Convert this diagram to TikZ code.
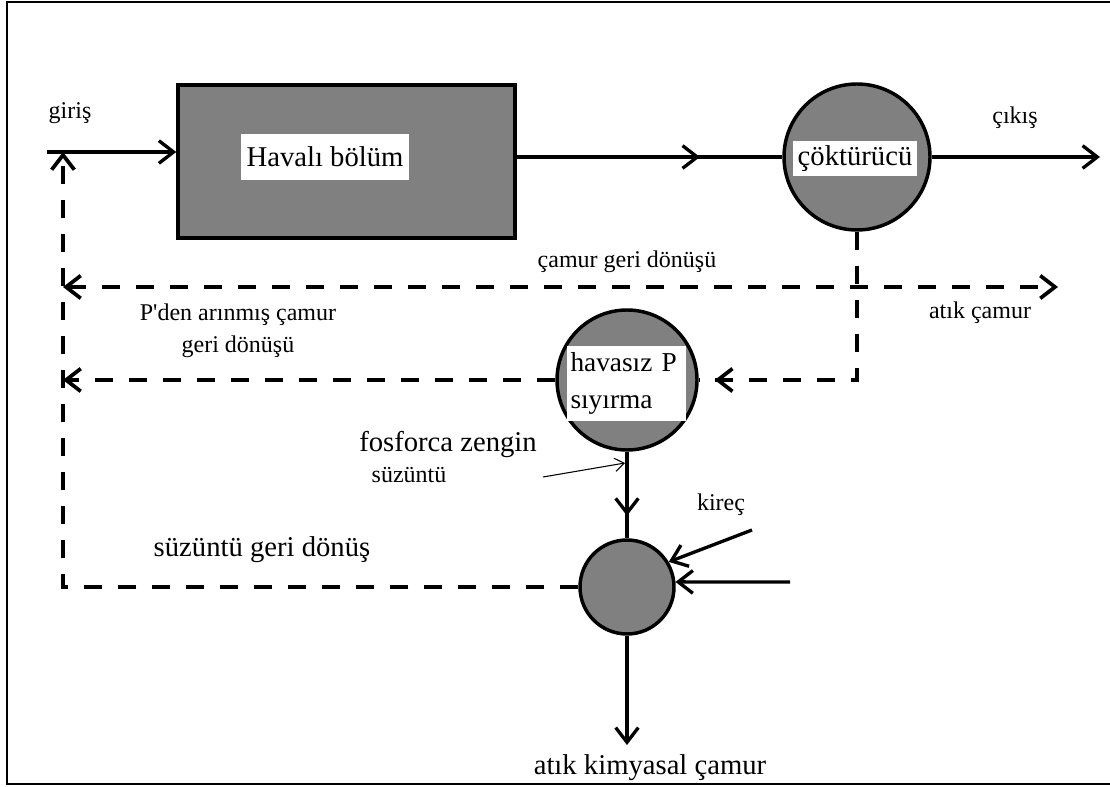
\documentclass[tikz,border=0pt]{standalone}
\usepackage{fontspec}
\setmainfont{Liberation Serif}
\usetikzlibrary{arrows.meta,decorations.markings}
\definecolor{tank}{RGB}{128,128,128}
\begin{document}
\begin{tikzpicture}[x=0.75pt,y=-0.75pt,
  >={Straight Barb[length=11pt,width=17pt]},
  frame/.style={line width=2.2pt},
  flow/.style={line width=2.5pt},
  dflow/.style={line width=2.8pt,dash pattern=on 13.5pt off 12pt},
  thin flow/.style={line width=0.8pt,-{Straight Barb[length=7pt,width=10pt]}},
  tankbox/.style={draw,line width=2.6pt,fill=tank,inner sep=0},
  tankcirc/.style={draw,line width=2.6pt,fill=tank,circle,inner sep=0},
  wlabel/.style={fill=white,inner sep=2pt,font=\fontsize{21.5}{27.5}\selectfont},
  lbl/.style={inner sep=0,font=\fontsize{18}{21}\selectfont},
  lblL/.style={inner sep=0,font=\fontsize{21.5}{25}\selectfont},
  midarrow/.style={postaction={decorate},decoration={markings,mark=at position #1 with {\arrow{>}}}}
]
\useasboundingbox (0,0) rectangle (1110,787);
% frame
\draw[frame] (1112,2) -- (7,2) -- (7,784) -- (1112,784);

% units
\node[tankbox,minimum width=252.75pt,minimum height=114.75pt] (hb) at (346.5,161.5) {};
\node[wlabel,minimum width=126pt,minimum height=34.5pt] (hbl) at (325,157) {Havalı bölüm};
\node[tankcirc,minimum size=109.5pt] (cok) at (857,157) {};
\node[wlabel,minimum width=93pt,minimum height=26pt] (cokl) at (855,158.5) {çöktürücü};
\node[tankcirc,minimum size=105pt] (hav) at (627,380) {};
\node[wlabel,inner xsep=2.5pt,text width=84pt,minimum height=56pt,align=left,font=\fontsize{20.5}{27.5}\selectfont] (havl) at (626.5,383.5) {havasız P\\sıyırma};
\node[tankcirc,minimum size=70.5pt] (sm) at (627,587) {};

% free ends
\coordinate (in) at (47,152);
\coordinate (fb) at (63,152);
\coordinate (out) at (1100,157);
\coordinate (rl) at (63,287);
\coordinate (rr) at (1058,287);
\coordinate (pl) at (63,380);
\coordinate (lime) at (752,530);
\coordinate (lime2) at (790,582);
\coordinate (sludge) at (627,745);
\coordinate (fzs) at (543,477);
\coordinate (fze) at (625,463);

% solid flows
\draw[flow,->] (in) -- (in -| hb.west);
\draw[flow,midarrow=0.69] (hb.east |- cok.west) -- (cok.west);
\draw[flow,->] (cok.east) -- (out);
\draw[flow,midarrow=0.74] (hav.south) -- (sm.north);
\draw[flow,->] (lime) -- (sm.31);
\draw[flow,->] (lime2) -- (sm.6);
\draw[flow,->] (sm.south) -- (sludge);
\draw[thin flow] (fzs) -- (fze);

% dashed flows
\draw[dflow,<->] (rl) -- (rr);
\draw[dflow,postaction={decorate},decoration={markings,mark=at position -12pt with {\arrow{>}}}] (cok.south) |- (hav.east);
\draw[dflow,->] (hav.west) -- (pl);
\draw[dflow,->] (sm.west) -| (fb);

% labels
\node[lbl] (l1) at (70,113) {giriş};
\node[lbl] (l2) at (1015,118) {çıkış};
\node[lbl] (l3) at (627,262) {çamur geri dönüşü};
\node[lbl] (l4) at (980,313) {atık çamur};
\node[lbl] (l5) at (238,315) {P\textquotesingle den arınmış çamur};
\node[lbl] (l6) at (238,347) {geri dönüşü};
\node[lblL] (l7) at (448,445) {fosforca zengin};
\node[lbl] (l8) at (409,475) {süzüntü};
\node[lbl] (l9) at (721,505) {kireç};
\node[lblL] (l10) at (262,550) {süzüntü geri dönüş};
\node[lblL] (l11) at (650,768) {atık kimyasal çamur};
\end{tikzpicture}
\end{document}
